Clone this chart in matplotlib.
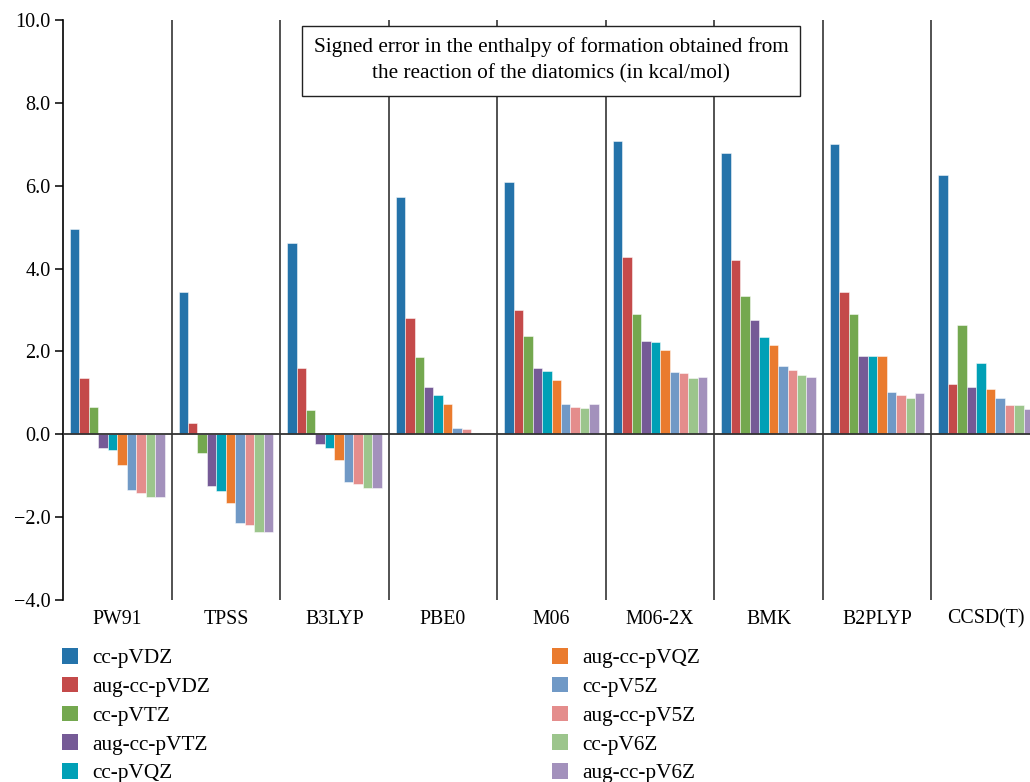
import numpy as np
import matplotlib
matplotlib.use("Agg")
import matplotlib.pyplot as plt
from matplotlib.patches import Patch
from matplotlib.ticker import FuncFormatter

plt.rcParams['font.family'] = ['Liberation Serif', 'DejaVu Serif']

methods = ['PW91', 'TPSS', 'B3LYP', 'PBE0', 'M06', 'M06-2X', 'BMK', 'B2PLYP', 'CCSD(T)']
basis = ['cc-pVDZ', 'aug-cc-pVDZ', 'cc-pVTZ', 'aug-cc-pVTZ', 'cc-pVQZ',
         'aug-cc-pVQZ', 'cc-pV5Z', 'aug-cc-pV5Z', 'cc-pV6Z', 'aug-cc-pV6Z']

# signed errors (kcal/mol), one list per method, in basis-set order
pw91 = [4.95, 1.37, 0.67, -0.34, -0.37, -0.75, -1.35, -1.42, -1.52, -1.52]
tpss = [3.43, 0.27, -0.44, -1.26, -1.38, -1.67, -2.15, -2.20, -2.35, -2.35]
b3lyp = [4.62, 1.60, 0.58, -0.23, -0.33, -0.61, -1.16, -1.20, -1.29, -1.29]
pbe0 = [5.73, 2.81, 1.86, 1.14, 0.96, 0.72, 0.15, 0.13, 0.02, 0.01]
m06 = [6.08, 3.01, 2.38, 1.59, 1.53, 1.30, 0.72, 0.67, 0.63, 0.73]
m062x = [7.09, 4.29, 2.91, 2.26, 2.23, 2.04, 1.51, 1.49, 1.35, 1.39]
bmk = [6.80, 4.21, 3.35, 2.76, 2.35, 2.16, 1.65, 1.56, 1.43, 1.39]
b2plyp = [7.00, 3.44, 2.90, 1.89, 1.89, 1.89, 1.03, 0.95, 0.88, 1.00]
ccsdt = [6.26, 1.22, 2.63, 1.15, 1.71, 1.10, 0.88, 0.71, 0.71, 0.62]
errors = np.array([pw91, tpss, b3lyp, pbe0, m06, m062x, bmk, b2plyp, ccsdt])

colors = ['#2473aa', '#c44a4a', '#74a84f', '#755a96', '#00a0b6',
          '#ea7b2e', '#7099c6', '#e48d8c', '#9cc58c', '#a391bc']

fig = plt.figure(figsize=(10.3, 7.82), dpi=100)
W, H = 1030, 782
ax = fig.add_axes([63 / W, (H - 600) / H, 977 / W, 580 / H])

w = 0.0872
x = np.arange(len(methods))
for j in range(len(basis)):
    ax.bar(x + 0.5 + (j - 4.5) * w, errors[:, j], width=w, color=colors[j],
           edgecolor=(1, 1, 1, 0.5), linewidth=0.7, zorder=2)

for k in range(1, len(methods)):
    ax.axvline(k, color='#444444', lw=1.3, zorder=1)
ax.axhline(0, color='#333333', lw=1.3, zorder=3)

ax.set_xlim(0, len(methods))
ax.set_ylim(-4, 10)
ax.set_yticks(np.arange(-4, 10.1, 2))
ax.yaxis.set_major_formatter(FuncFormatter(lambda v, p: ('%.1f' % v).replace('-', '\u2212')))
ax.set_xticks(x + 0.5)
ax.set_xticklabels(methods)
ax.tick_params(axis='x', length=0, pad=7, labelsize=14.3)
ax.tick_params(axis='y', length=6, width=1.1, pad=3, labelsize=14.5)

for s in ['top', 'right', 'bottom']:
    ax.spines[s].set_visible(False)
ax.spines['left'].set_linewidth(1.2)

ax.text(0.4995, 0.930, 'Signed error in the enthalpy of formation obtained from\n'
        'the reaction of the diatomics (in kcal/mol)',
        transform=ax.transAxes, ha='center', va='center', fontsize=15.3,
        linespacing=1.5, zorder=5,
        bbox=dict(boxstyle='square,pad=0.55', facecolor='white', edgecolor='#222222', lw=1))

handles = [Patch(facecolor=c, edgecolor='none') for c in colors]
leg_kw = dict(loc='upper left', frameon=False, fontsize=15.3, borderpad=0, borderaxespad=0,
              handlelength=0.76, handleheight=0.76, handletextpad=0.65, labelspacing=0.4)
fig.legend(handles[:5], basis[:5], bbox_to_anchor=(62 / W, 1 - 648 / H), **leg_kw)
fig.legend(handles[5:], basis[5:], bbox_to_anchor=(552 / W, 1 - 648 / H), **leg_kw)

fig.savefig('out.png', dpi=100)
